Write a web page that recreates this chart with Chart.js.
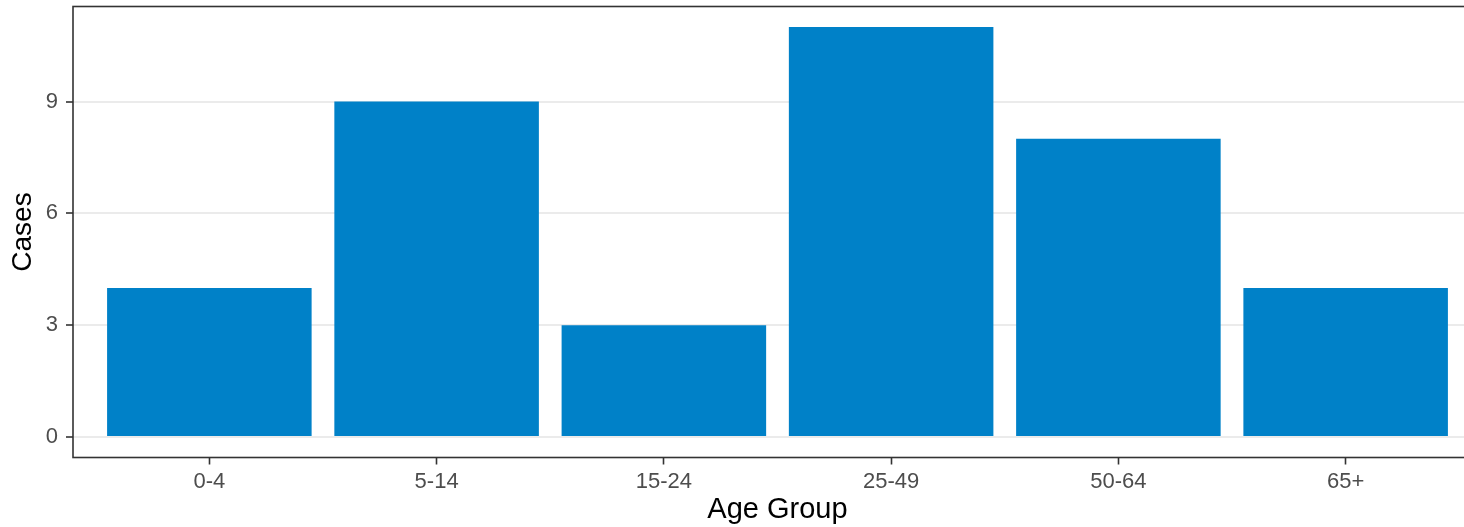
<!DOCTYPE html>
<html>
<head>
<meta charset="utf-8">
<script src="https://cdn.jsdelivr.net/npm/chart.js@4"></script>
<style>
    html, body { margin: 0; padding: 0; background: #fff; overflow: hidden; }
    #wrap { width: 1500px; height: 527px; }
</style>
</head>
<body>
<div id="wrap"><canvas id="cases-chart"></canvas></div>
<script>
// Data
const ageGroups = ['0-4', '5-14', '15-24', '25-49', '50-64', '65+'];
const cases = [4, 9, 3, 11, 8, 4];
const yTicks = [0, 3, 6, 9];

const FONT = "'Liberation Sans', Arial, sans-serif";

// Draw the grey panel border round the plot area
const panelBorder = {
    id: 'panelBorder',
    afterDraw(chart) {
        const { ctx, chartArea } = chart;
        ctx.save();
        ctx.strokeStyle = '#333333';
        ctx.lineWidth = 1.6;
        ctx.strokeRect(chartArea.left, chartArea.top, chartArea.right - chartArea.left, chartArea.bottom - chartArea.top);
        ctx.restore();
    }
};

const ctx = document.getElementById('cases-chart').getContext('2d');
new Chart(ctx, {
    type: 'bar',
    data: {
        datasets: [{
            data: cases.map((v, i) => ({ x: i, y: v })),
            backgroundColor: '#0081C8',
            borderWidth: 0,
            barPercentage: 0.9,
            categoryPercentage: 1
        }]
    },
    options: {
        responsive: true,
        maintainAspectRatio: false,
        animation: false,
        // the panel runs past the right edge of the window, as in the picture
        layout: { padding: { top: 6.5, left: 0, right: 18, bottom: 0 } },
        plugins: {
            legend: { display: false },
            tooltip: { enabled: false }
        },
        scales: {
            x: {
                type: 'linear',
                offset: false,
                min: -0.6,
                max: ageGroups.length - 0.4,
                afterBuildTicks: scale => {
                    scale.ticks = ageGroups.map((_, i) => ({ value: i }));
                },
                afterFit: scale => {
                    scale.height = 69.5;
                    scale.paddingLeft = 0;
                    scale.paddingRight = 0;
                },
                grid: {
                    offset: false,
                    drawOnChartArea: false,
                    drawTicks: true,
                    tickLength: 7,
                    tickColor: '#333333',
                    tickWidth: 1.6
                },
                border: { display: false },
                ticks: {
                    autoSkip: false,
                    maxRotation: 0,
                    padding: 4,
                    color: '#4D4D4D',
                    font: { family: FONT, size: 22 },
                    callback: value => ageGroups[value]
                },
                title: {
                    display: true,
                    text: 'Age Group',
                    color: '#000000',
                    font: { family: FONT, size: 29 },
                    padding: { top: 0, bottom: 0 }
                }
            },
            y: {
                min: -0.55,
                max: 11.55,
                afterBuildTicks: scale => {
                    scale.ticks = yTicks.map(v => ({ value: v }));
                },
                afterFit: scale => {
                    scale.width = 73;
                    scale.paddingTop = 0;
                    scale.paddingBottom = 0;
                },
                grid: {
                    color: '#EBEBEB',
                    lineWidth: 2,
                    drawTicks: true,
                    tickLength: 7,
                    tickColor: '#333333',
                    tickWidth: 1.6
                },
                border: { display: false },
                ticks: {
                    padding: 8,
                    color: '#4D4D4D',
                    font: { family: FONT, size: 22 }
                },
                title: {
                    display: true,
                    text: 'Cases',
                    color: '#000000',
                    font: { family: FONT, size: 28 },
                    padding: { top: 6, bottom: 0 }
                }
            }
        }
    },
    plugins: [panelBorder]
});
</script>
</body>
</html>
